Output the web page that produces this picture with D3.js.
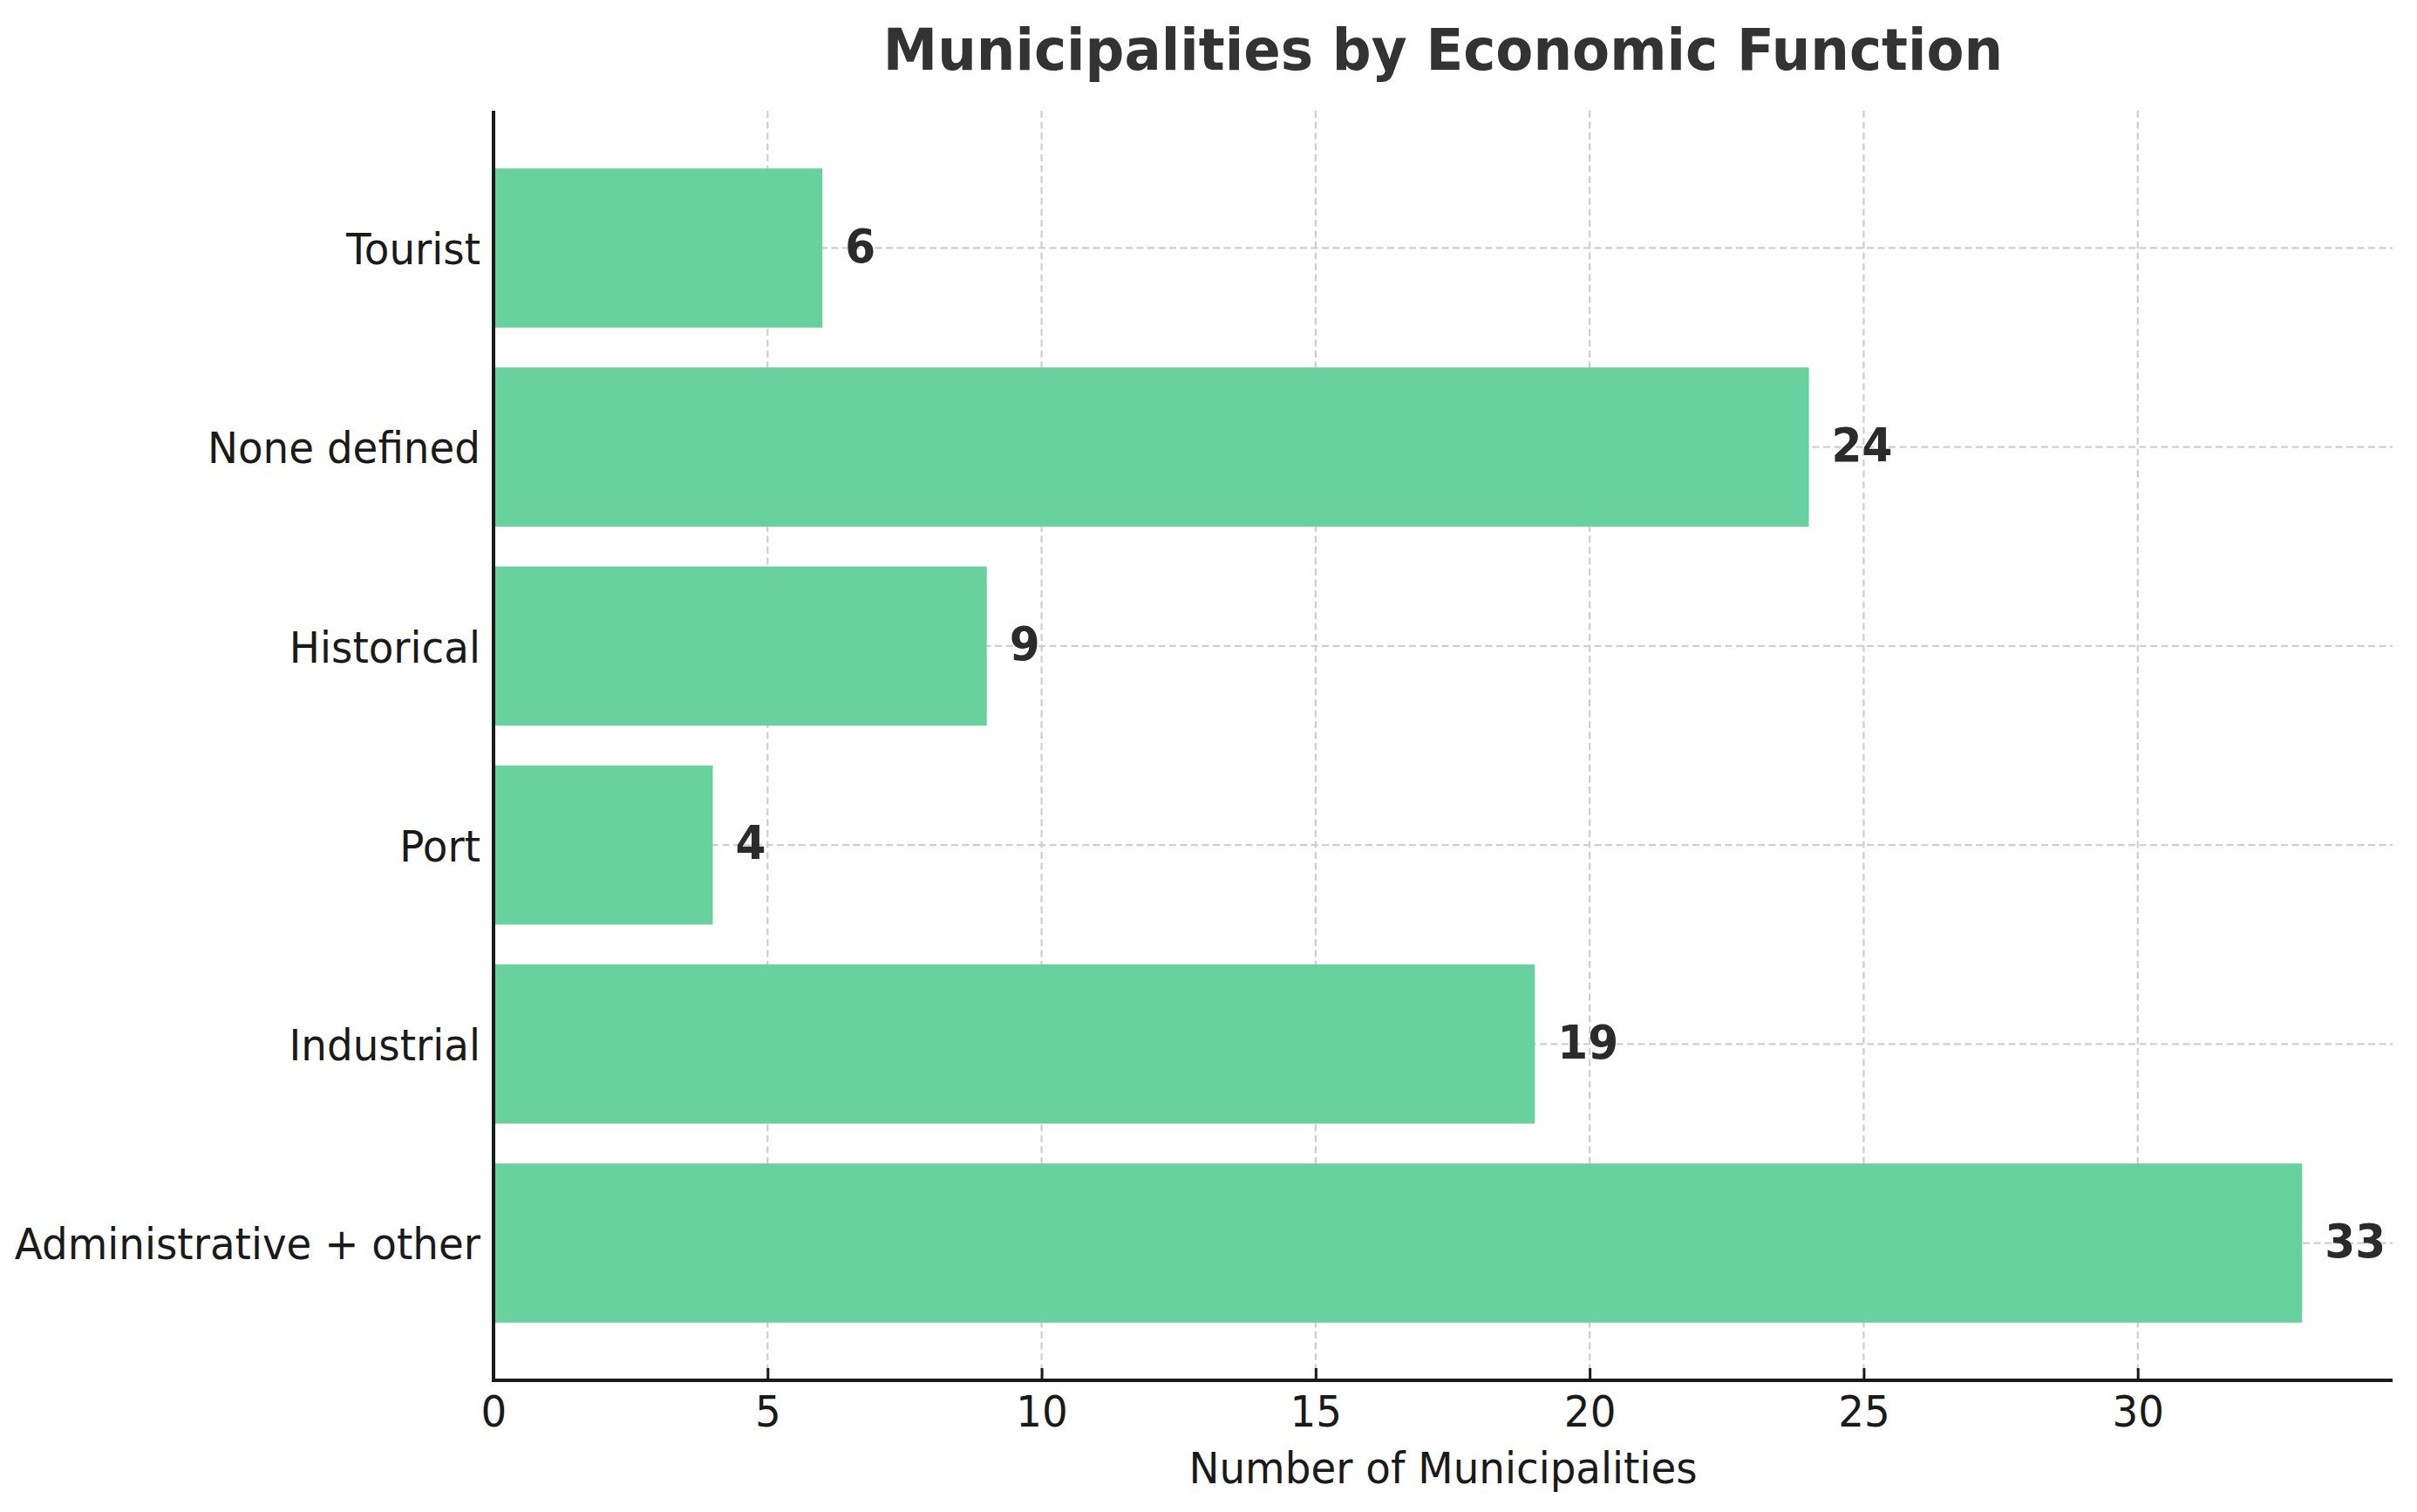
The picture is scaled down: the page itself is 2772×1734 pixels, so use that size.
<!DOCTYPE html>
<html>
<head>
<meta charset="utf-8">
<script src="https://cdn.jsdelivr.net/npm/d3@7/dist/d3.min.js"></script>
<style>
  html, body { margin: 0; padding: 0; background: #ffffff; }
  svg { display: block; }
  text { font-family: "DejaVu Sans", "Liberation Sans", sans-serif; }
</style>
</head>
<body>
<svg id="chart" width="2772" height="1734"></svg>
<script>
// ---- Data (bottom-to-top order as in the chart) ----
const categories = ["Administrative + other", "Industrial", "Port", "Historical", "None defined", "Tourist"];
const counts = [33, 19, 4, 9, 24, 6];
const xTicks = [0, 5, 10, 15, 20, 25, 30];
const titleText = "Municipalities by Economic Function";
const xLabelText = "Number of Municipalities";

// ---- Layout ----
const W = 2772, H = 1734;
const plot = { left: 566, right: 2744, top: 127, bottom: 1583 };
const SQ = 0.955;   // horizontal glyph squeeze for regular labels
const SQV = 0.93;   // squeeze for bold value labels
const barColor = "#68d19d";
const gridColor = "#cfcfcf";

const svg = d3.select("#chart");

const x = d3.scaleLinear()
  .domain([0, d3.max(counts) * 1.05])
  .range([plot.left, plot.right]);

const y = d3.scaleBand()
  .domain(categories.slice().reverse())
  .range([plot.top, plot.bottom])
  .paddingInner(0.2)
  .paddingOuter(0.29);

const data = categories.map((c, i) => ({ cat: c, val: counts[i] }));

// ---- Grid ----
const grid = svg.append("g");
grid.selectAll("line.vg").data(xTicks).enter().append("line")
  .attr("x1", d => x(d)).attr("x2", d => x(d))
  .attr("y1", plot.top).attr("y2", plot.bottom)
  .attr("stroke", gridColor).attr("stroke-width", 2.2)
  .attr("stroke-dasharray", "8,4.5");
grid.selectAll("line.hg").data(categories).enter().append("line")
  .attr("x1", plot.left).attr("x2", plot.right)
  .attr("y1", d => y(d) + y.bandwidth() / 2).attr("y2", d => y(d) + y.bandwidth() / 2)
  .attr("stroke", gridColor).attr("stroke-width", 2.2)
  .attr("stroke-dasharray", "8,4.5");

// ---- Bars ----
svg.append("g").selectAll("rect").data(data).enter().append("rect")
  .attr("x", x(0))
  .attr("y", d => y(d.cat))
  .attr("width", d => x(d.val) - x(0))
  .attr("height", y.bandwidth())
  .attr("fill", barColor);

// ---- Value labels ----
svg.append("g").selectAll("g").data(data).enter().append("g")
  .attr("transform", d => `translate(${x(d.val) + 26},${y(d.cat) + y.bandwidth() / 2}) scale(${SQV},1)`)
  .append("text")
  .attr("dy", "0.3em")
  .attr("font-size", 54)
  .attr("font-weight", "bold")
  .attr("fill", "#2b2b2b")
  .text(d => d.val);

// ---- Axes ----
const xAxis = svg.append("g")
  .attr("transform", `translate(0,${plot.bottom})`)
  .call(d3.axisBottom(x).tickValues(xTicks).tickSize(-14).tickSizeOuter(0).tickPadding(0));
xAxis.select(".domain").remove();
xAxis.selectAll(".tick line").attr("stroke", "#1a1a1a").attr("stroke-width", 3);
xAxis.selectAll(".tick text")
  .attr("y", 0).attr("dy", 0)
  .attr("transform", `translate(0,53) scale(${SQ},1)`)
  .attr("font-size", 49)
  .attr("fill", "#1a1a1a")
  .attr("font-family", "DejaVu Sans");

const yAxis = svg.append("g")
  .attr("transform", `translate(${plot.left},0)`)
  .call(d3.axisLeft(y).tickSize(0).tickPadding(0));
yAxis.select(".domain").remove();
yAxis.selectAll(".tick text")
  .attr("x", 0).attr("dy", "0.38em")
  .attr("transform", `translate(-15,0) scale(${SQ},1)`)
  .attr("font-size", 49)
  .attr("fill", "#1a1a1a")
  .attr("font-family", "DejaVu Sans");

// ---- Spines ----
svg.append("line")
  .attr("x1", plot.left).attr("x2", plot.left)
  .attr("y1", plot.top).attr("y2", plot.bottom + 2)
  .attr("stroke", "#1a1a1a").attr("stroke-width", 4);
svg.append("line")
  .attr("x1", plot.left - 2).attr("x2", plot.right)
  .attr("y1", plot.bottom).attr("y2", plot.bottom)
  .attr("stroke", "#1a1a1a").attr("stroke-width", 4);

// ---- Title and axis label ----
svg.append("g")
  .attr("transform", `translate(${(plot.left + plot.right) / 2},80) scale(0.95,1)`)
  .append("text")
  .attr("text-anchor", "middle")
  .attr("font-size", 66)
  .attr("font-weight", "bold")
  .attr("fill", "#333333")
  .text(titleText);

svg.append("g")
  .attr("transform", `translate(${(plot.left + plot.right) / 2},1701) scale(${SQ},1)`)
  .append("text")
  .attr("text-anchor", "middle")
  .attr("font-size", 49)
  .attr("fill", "#1a1a1a")
  .text(xLabelText);
</script>
</body>
</html>
